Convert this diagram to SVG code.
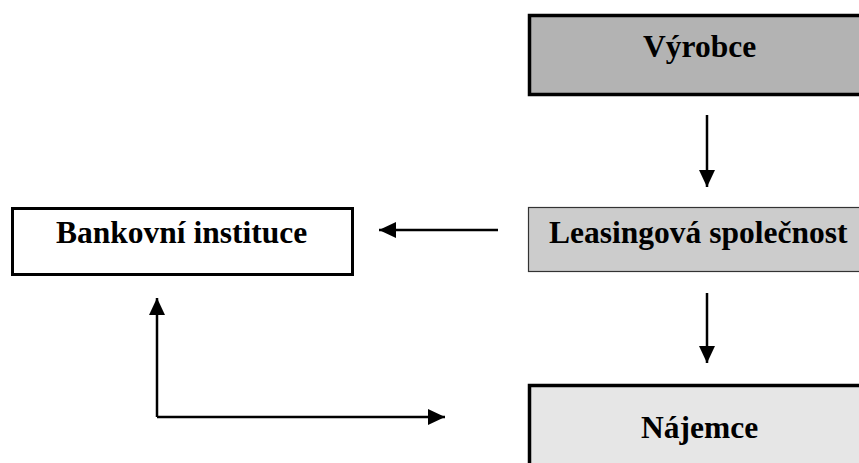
<svg xmlns="http://www.w3.org/2000/svg" width="859" height="463" viewBox="0 0 859 463" font-family="Liberation Serif, Times New Roman, serif">
  <style>
    text { font-family: 'Liberation Serif', 'Times New Roman', serif !important; font-weight: 700; font-size: 31.5px; fill: #000; }
    .conn { stroke: #000; stroke-width: 2.5; fill: none; }
  </style>
  <defs>
    <marker id="arrow" markerUnits="userSpaceOnUse" markerWidth="18" markerHeight="16" refX="17" refY="8" orient="auto">
      <path d="M0,0 L17,8 L0,16 Z" fill="#000"/>
    </marker>
  </defs>
  <rect width="859" height="463" fill="#fff"/>

  <g id="vyrobce">
    <rect x="529.5" y="15.5" width="340" height="79" fill="#b3b3b3" stroke="#000" stroke-width="3.5"/>
    <text x="643" y="57" style="font-family: 'Liberation Serif'; font-weight: 700; font-size: 31.5px">Výrobce</text>
  </g>

  <g id="leasingova-spolecnost">
    <rect x="528.5" y="207.5" width="340" height="64" fill="#cccccc" stroke="#333" stroke-width="1.2"/>
    <text x="549" y="243" style="font-family: 'Liberation Serif'; font-weight: 700; font-size: 31.5px">Leasingová společnost</text>
  </g>

  <g id="bankovni-instituce">
    <rect x="12.5" y="208.5" width="340" height="66" fill="#fff" stroke="#000" stroke-width="3"/>
    <text x="56" y="243" style="font-family: 'Liberation Serif'; font-weight: 700; font-size: 31.5px">Bankovní instituce</text>
  </g>

  <g id="najemce">
    <rect x="529.5" y="385.5" width="340" height="90" fill="#e6e6e6" stroke="#000" stroke-width="3.5"/>
    <text x="641" y="438" style="font-family: 'Liberation Serif'; font-weight: 700; font-size: 31.5px">Nájemce</text>
  </g>

  <g id="connectors">
    <line class="conn" x1="707" y1="115" x2="707" y2="187" marker-end="url(#arrow)"/>
    <line class="conn" x1="707" y1="293" x2="707" y2="363" marker-end="url(#arrow)"/>
    <line class="conn" x1="498" y1="230" x2="379" y2="230" marker-end="url(#arrow)"/>
    <polyline class="conn" points="157,417 157,298" marker-end="url(#arrow)"/>
    <polyline class="conn" points="157,417 445,417" marker-end="url(#arrow)"/>
  </g>
</svg>
